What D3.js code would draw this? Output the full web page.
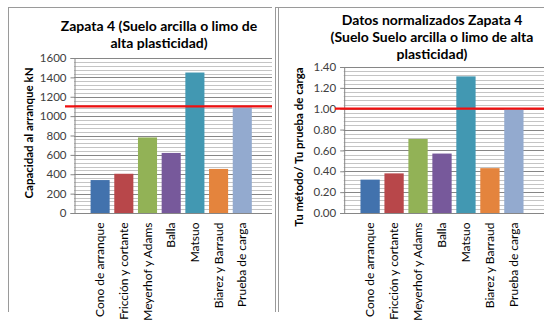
<!DOCTYPE html>
<html>
<head>
<meta charset="utf-8">
<script src="https://cdn.jsdelivr.net/npm/d3@7"></script>
<style>
  html, body { margin: 0; padding: 0; background: #fff; }
  svg { display: block; }
  text { font-family: Lato, "Noto Sans", sans-serif; }
</style>
</head>
<body>
<svg id="chart" width="544" height="321"></svg>
<script>
// Pull-out capacity of footing 4 by method, and the same values normalised by the load test
const categories = ["Cono de arranque", "Fricción y cortante", "Meyerhof y Adams", "Balla", "Matsuo", "Biarez y Barraud", "Prueba de carga"];
const capacityKN = [340, 405, 780, 620, 1450, 455, 1090];
const normalized = [0.32, 0.38, 0.71, 0.57, 1.31, 0.43, 1.00];
const barColors = ["#4272AD", "#B8474A", "#92B256", "#77599B", "#4298B2", "#E4843D", "#93AACF"];
const capacityTicks = [0, 200, 400, 600, 800, 1000, 1200, 1400, 1600];
const normalizedTicks = [0, 0.2, 0.4, 0.6, 0.8, 1.0, 1.2, 1.4];
const capacityReference = 1100;
const normalizedReference = 1.0;

const svg = d3.select("#chart");

function panel(opts) {
  const g = svg.append("g");

  // frame
  g.append("line").attr("x1", opts.frame.x0).attr("x2", opts.frame.x1)
    .attr("y1", opts.frame.y0).attr("y2", opts.frame.y0)
    .attr("stroke", "#9a9a9a").attr("stroke-width", 1);
  opts.frame.lefts.forEach(x => {
    g.append("line").attr("x1", x).attr("x2", x)
      .attr("y1", opts.frame.y0).attr("y2", opts.frame.y1)
      .attr("stroke", "#9a9a9a").attr("stroke-width", 1);
  });

  // title
  const title = g.append("text")
    .attr("text-anchor", "middle")
    .attr("font-weight", "bold")
    .attr("font-size", opts.titleSize)
    .attr("fill", "#000");
  opts.title.forEach((line, i) => {
    title.append("tspan").attr("x", opts.titleX).attr("y", opts.titleY + i * opts.titleLead).text(line);
  });

  const x = d3.scaleBand().domain(categories).range([opts.left, opts.right])
    .paddingInner(0.195).paddingOuter(0.7);
  const y = d3.scaleLinear().domain([0, opts.max]).range([opts.bottom, opts.top]);

  // minor and major horizontal gridlines
  const minor = d3.range(0, opts.max + opts.minor / 2, opts.minor);
  g.append("g").selectAll("line").data(minor).join("line")
    .attr("x1", opts.left).attr("x2", opts.gridEnd)
    .attr("y1", d => Math.round(y(d)) + 0.5).attr("y2", d => Math.round(y(d)) + 0.5)
    .attr("stroke", "#c4c4c4").attr("stroke-width", 1);
  g.append("g").selectAll("line").data(opts.ticks).join("line")
    .attr("x1", opts.left).attr("x2", opts.gridEnd)
    .attr("y1", d => Math.round(y(d)) + 0.5).attr("y2", d => Math.round(y(d)) + 0.5)
    .attr("stroke", "#868686").attr("stroke-width", 1);

  // bars
  g.append("g").selectAll("rect").data(opts.values).join("rect")
    .attr("x", (d, i) => x(categories[i]))
    .attr("width", x.bandwidth())
    .attr("y", d => y(d))
    .attr("height", d => y(0) - y(d))
    .attr("fill", (d, i) => barColors[i]);

  // value axis
  const yAxis = d3.axisLeft(y).tickValues(opts.ticks).tickFormat(opts.fmt)
    .tickSize(4).tickPadding(4);
  const ya = g.append("g").attr("transform", `translate(${opts.left + 0.5},0)`).call(yAxis);
  ya.select(".domain").attr("stroke", "#868686");
  ya.selectAll(".tick line").attr("stroke", "#868686");
  ya.selectAll(".tick text").attr("font-size", 11.5).attr("fill", "#404040")
    .attr("font-family", "Lato, 'Noto Sans', sans-serif");

  // category axis
  const xAxis = d3.axisBottom(x).tickSize(0).tickPadding(0);
  const xa = g.append("g").attr("transform", `translate(0,${Math.round(y(0)) + 0.5})`).call(xAxis);
  xa.select(".domain").attr("stroke", "#868686").attr("d", `M${opts.left},0H${opts.gridEnd}`);
  xa.selectAll(".tick text")
    .attr("font-size", 12).attr("fill", "#000")
    .attr("font-family", "Lato, 'Noto Sans', sans-serif")
    .attr("transform", "rotate(-90)")
    .attr("text-anchor", "end")
    .attr("dy", "0.35em")
    .attr("x", -9).attr("y", 0);

  // reference line
  g.append("line")
    .attr("x1", opts.refStart).attr("x2", opts.gridEnd)
    .attr("y1", y(opts.reference)).attr("y2", y(opts.reference))
    .attr("stroke", "#f01010").attr("stroke-width", 2.2);

  // axis title
  g.append("text")
    .attr("transform", `translate(${opts.yTitleX},${opts.yTitleY}) rotate(-90)`)
    .attr("text-anchor", "middle")
    .attr("font-weight", "bold")
    .attr("font-size", 11.5)
    .attr("fill", "#000")
    .text(opts.yTitle);
}

panel({
  frame: { x0: 8, x1: 272, y0: 7.5, y1: 312, lefts: [8.5] },
  title: ["Zapata 4 (Suelo arcilla o limo de", "alta plasticidad)"],
  titleX: 159, titleY: 31, titleLead: 16.5, titleSize: 14,
  left: 74, right: 268.4, gridEnd: 272, top: 58, bottom: 213,
  max: 1600, minor: 40, ticks: capacityTicks, fmt: d3.format("d"),
  values: capacityKN, reference: capacityReference, refStart: 65,
  yTitle: "Capacidad al arranque  kN", yTitleX: 33, yTitleY: 133
});

panel({
  frame: { x0: 275, x1: 544, y0: 7.5, y1: 312, lefts: [275.5, 278.5] },
  title: ["Datos normalizados  Zapata 4", "(Suelo Suelo arcilla o limo de alta", "plasticidad)"],
  titleX: 432, titleY: 25, titleLead: 16.8, titleSize: 14,
  left: 343.7, right: 540.3, gridEnd: 544, top: 67, bottom: 213,
  max: 1.4, minor: 0.04, ticks: normalizedTicks, fmt: d3.format(".2f"),
  values: normalized, reference: normalizedReference, refStart: 335,
  yTitle: "Tu método/ Tu prueba de carga", yTitleX: 303, yTitleY: 147
});
</script>
</body>
</html>
